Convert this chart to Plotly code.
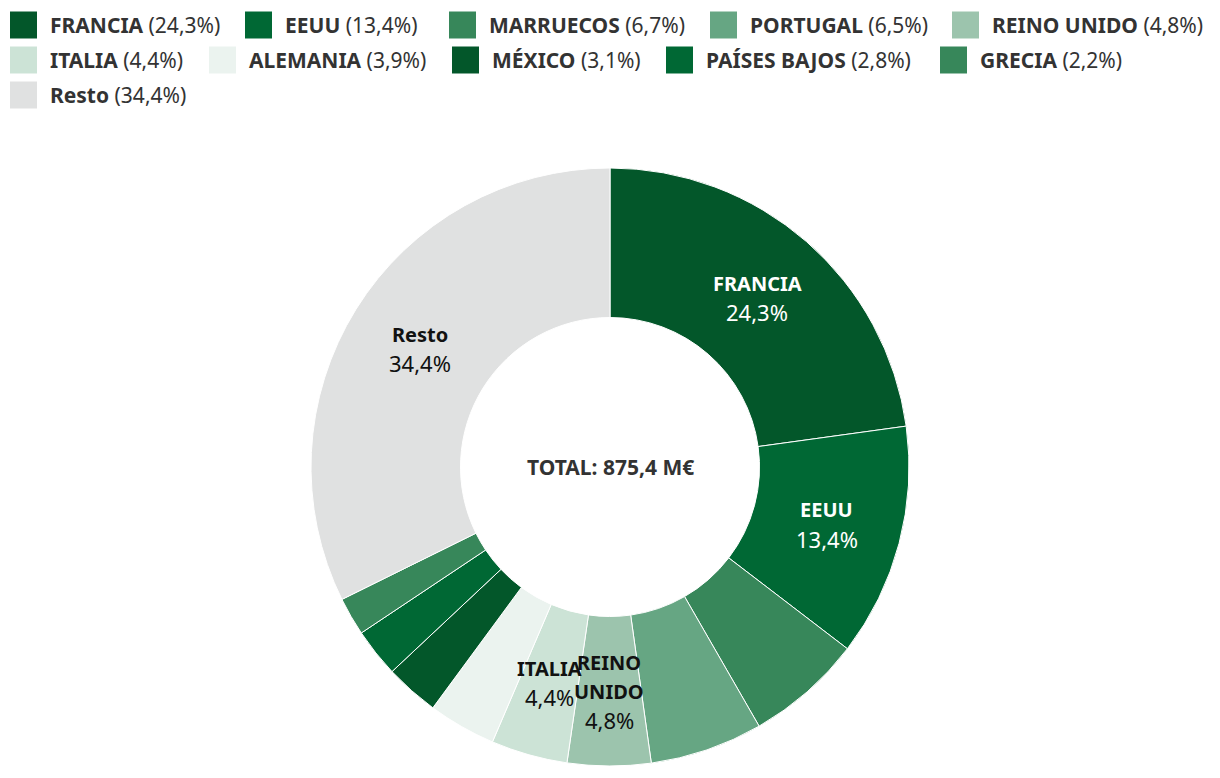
import math
import plotly.graph_objects as go

# ---------------- data ----------------
countries = ["FRANCIA", "EEUU", "MARRUECOS", "PORTUGAL", "REINO UNIDO", "ITALIA",
             "ALEMANIA", "MÉXICO", "PAÍSES BAJOS", "GRECIA", "Resto"]
shares = [24.3, 13.4, 6.7, 6.5, 4.8, 4.4, 3.9, 3.1, 2.8, 2.2, 34.4]
share_text = ["24,3%", "13,4%", "6,7%", "6,5%", "4,8%", "4,4%", "3,9%", "3,1%", "2,8%", "2,2%", "34,4%"]
# labels drawn inside the ring ("" = no label)
inner_names = ["FRANCIA", "EEUU", "", "", "REINO<br>UNIDO", "ITALIA", "", "", "", "", "Resto"]
colors = ["#03572a", "#006834", "#37875a", "#66a683", "#9cc4ad", "#cce3d6",
          "#ebf3ef", "#03572a", "#006834", "#37875a", "#e0e1e1"]
inner_font_colors = ["#ffffff", "#ffffff", "#111", "#111", "#111", "#111",
                     "#111", "#111", "#111", "#111", "#111"]
total_text = "TOTAL: 875,4 M€"

# ---------------- layout constants ----------------
W, H = 1220, 778
FONT = "Noto Sans"
cx, cy = 610, 467          # ring centre (px)
R_out = 299
hole = 0.5
R_mid = R_out * (1 + hole) / 2

fig = go.Figure()
fig.add_trace(go.Pie(
    labels=countries,
    values=shares,
    sort=False,
    direction="clockwise",
    rotation=0,
    hole=hole,
    marker=dict(colors=colors, line=dict(color="#ffffff", width=1)),
    textinfo="none",
    hoverinfo="label+percent",
    showlegend=False,
    domain=dict(x=[(cx - R_out) / W, (cx + R_out) / W],
                y=[(H - cy - R_out) / H, (H - cy + R_out) / H]),
))

annotations = []
shapes = []

# inner slice labels, placed at the middle of each slice
total = sum(shares)
cum = 0.0
line_h = 29
for name, val, txt, fc in zip(inner_names, shares, share_text, inner_font_colors):
    mid = (cum + val / 2) / total * 2 * math.pi
    cum += val
    if not name:
        continue
    px = cx + R_mid * math.sin(mid)
    py = cy - R_mid * math.cos(mid)
    lines = [("<b>%s</b>" % s, 20) for s in name.split("<br>")] + [(txt, 22)]
    n = len(lines)
    for i, (ln, fs) in enumerate(lines):
        ly = py + (i - (n - 1) / 2) * line_h
        annotations.append(dict(
            x=px / W, y=1 - ly / H, xref="paper", yref="paper",
            text=ln, showarrow=False, xanchor="center", yanchor="middle",
            font=dict(family=FONT, size=fs, color=fc)))

# centre total
annotations.append(dict(
    x=cx / W, y=1 - cy / H, xref="paper", yref="paper",
    text="<b>%s</b>" % total_text, showarrow=False,
    xanchor="center", yanchor="middle",
    font=dict(family=FONT, size=21, color="#333333")))

# custom legend (three rows)
legend_rows = [[0, 1, 2, 3, 4], [5, 6, 7, 8, 9], [10]]
legend_x = [[10, 245, 449, 710, 952], [10, 209, 452, 666, 940], [10]]
row_y = [25, 60, 95]
sw_w, sw_h = 27, 27
for r, (idxs, xs) in enumerate(zip(legend_rows, legend_x)):
    yc = row_y[r]
    for i, x0 in zip(idxs, xs):
        shapes.append(dict(type="rect", xref="paper", yref="paper",
                           x0=x0 / W, x1=(x0 + sw_w) / W,
                           y0=1 - (yc + sw_h / 2) / H, y1=1 - (yc - sw_h / 2) / H,
                           fillcolor=colors[i], line=dict(width=0)))
        annotations.append(dict(
            x=(x0 + sw_w + 11) / W, y=1 - yc / H, xref="paper", yref="paper",
            text="<b>%s</b> (%s)" % (countries[i], share_text[i]),
            showarrow=False, xanchor="left", yanchor="middle",
            font=dict(family=FONT, size=21, color="#333333")))

fig.update_layout(
    width=W, height=H,
    margin=dict(l=0, r=0, t=0, b=0),
    paper_bgcolor="#ffffff",
    plot_bgcolor="#ffffff",
    annotations=annotations,
    shapes=shapes,
    font=dict(family=FONT),
)

fig.write_html("out.html")
